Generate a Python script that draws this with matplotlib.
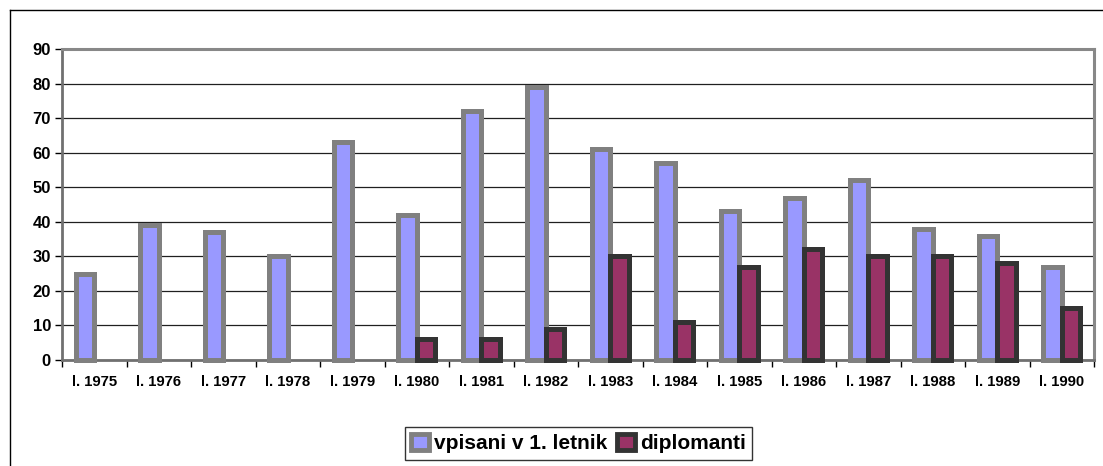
import matplotlib
matplotlib.use("Agg")
import matplotlib.pyplot as plt
import numpy as np
from matplotlib.lines import Line2D
from matplotlib.patches import Patch

categories = ["l. 1975", "l. 1976", "l. 1977", "l. 1978", "l. 1979", "l. 1980",
              "l. 1981", "l. 1982", "l. 1983", "l. 1984", "l. 1985", "l. 1986",
              "l. 1987", "l. 1988", "l. 1989", "l. 1990"]
vpisani = [25, 39, 37, 30, 63, 42, 72, 79, 61, 57, 43, 47, 52, 38, 36, 27]
diplomanti = [0, 0, 0, 0, 0, 6, 6, 9, 30, 11, 27, 32, 30, 30, 28, 15]
series_names = ["vpisani v 1. letnik", "diplomanti"]

plt.rcParams['font.family'] = ['Liberation Sans', 'DejaVu Sans']
plt.rcParams['font.weight'] = 'bold'

W, H = 1103, 466
fig = plt.figure(figsize=(W / 100, H / 100), dpi=100)
left, right, top, bottom = 62, 1094, 49, 360
ax = fig.add_axes([left / W, 1 - bottom / H, (right - left) / W, (bottom - top) / H])

x = np.arange(len(categories))
bw = 0.286
lw_pt = 5 * 72 / 100

ax.bar(x - bw / 2, vpisani, width=bw, color='#9999FF', edgecolor='#808080',
       linewidth=lw_pt, zorder=3, clip_on=False)
dip_vals = np.array(diplomanti, dtype=float)
mask = dip_vals > 0
ax.bar(x[mask] + bw / 2, dip_vals[mask], width=bw, color='#993366', edgecolor='#333333',
       linewidth=lw_pt, zorder=4, clip_on=False)

ax.set_xlim(-0.5, len(categories) - 0.5)
ax.set_ylim(0, 90)
ax.set_yticks(np.arange(0, 91, 10))
ax.set_yticklabels([str(v) for v in range(0, 91, 10)], fontsize=12, fontweight='bold')
ax.set_xticks(x)
ax.set_xticklabels(categories, fontsize=10.7, fontweight='bold')
ax.set_xticks(np.arange(-0.5, len(categories), 1), minor=True)
ax.tick_params(axis='x', which='major', length=0, pad=11)
ax.tick_params(axis='x', which='minor', length=5, width=1, color='black', direction='out')
ax.tick_params(axis='y', length=5, width=1, color='black', direction='out', pad=3)

ax.grid(axis='y', color='#202020', linewidth=0.9, zorder=0)
ax.set_axisbelow(True)

for s in ['left', 'bottom']:
    ax.spines[s].set_color('#707070')
    ax.spines[s].set_linewidth(2)
for s in ['top', 'right']:
    ax.spines[s].set_color('#888888')
    ax.spines[s].set_linewidth(2.2)

# outer chart border (left and top)
fig.add_artist(Line2D([10 / W, 10 / W], [0, 1 - 10 / H], transform=fig.transFigure,
                      color='black', linewidth=1))
fig.add_artist(Line2D([10 / W, 1], [1 - 10 / H, 1 - 10 / H], transform=fig.transFigure,
                      color='black', linewidth=1))

handles = [Patch(facecolor='#9999FF', edgecolor='#808080', linewidth=3.5),
           Patch(facecolor='#993366', edgecolor='#333333', linewidth=3.5)]
leg = fig.legend(handles, series_names, loc='center', bbox_to_anchor=(578.5 / W, 1 - 443.5 / H),
                 ncol=2, frameon=True, fancybox=False, edgecolor='black',
                 prop={'size': 15, 'weight': 'bold'}, handlelength=0.85, handleheight=0.85,
                 handletextpad=0.25, columnspacing=0.5, borderpad=0.3)
leg.get_frame().set_linewidth(1)

fig.savefig("out.png", dpi=100)
